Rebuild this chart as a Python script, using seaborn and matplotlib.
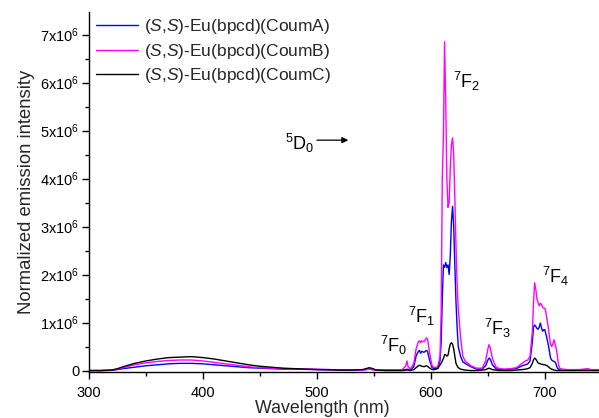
import numpy as np
import pandas as pd
import matplotlib
matplotlib.use("Agg")
import matplotlib.pyplot as plt
import seaborn as sns

# ---------------- data (intensity in units of 1e6) ----------------
wavelength = [300, 310, 320, 325, 330, 340, 350, 360, 370, 380, 390, 400, 410, 420, 430,
              440, 450, 460, 470, 480, 490, 500, 510, 520, 530, 540, 543, 546, 549, 552,
              560, 570, 575, 578, 579, 580, 582, 585, 587, 589, 590, 591, 592, 594, 596,
              597, 599, 601, 603, 606, 608, 609, 610, 611, 612, 613, 614, 615, 616, 617,
              618, 619, 620, 621, 622, 623, 624, 626, 628, 630, 635, 640, 645, 648, 650,
              651, 652, 654, 657, 660, 665, 670, 675, 680, 683, 685, 687, 689, 690, 691,
              692, 693, 694, 695, 696, 697, 698, 699, 700, 701, 702, 703, 704, 705, 706,
              707, 708, 709, 710, 711, 712, 713, 715, 720, 730, 738, 740, 750]

coum_b = [0, 0, 0.01, 0.03, 0.06, 0.12, 0.16, 0.19, 0.21, 0.22, 0.22, 0.20, 0.17, 0.14, 0.11,
          0.08, 0.06, 0.05, 0.04, 0.035, 0.03, 0.03, 0.02, 0.015, 0.01, 0.01, 0.02, 0.03, 0.02, 0.01,
          0.01, 0.01, 0.02, 0.10, 0.20, 0.08, 0.03, 0.15, 0.45, 0.60, 0.62, 0.58, 0.62, 0.60, 0.68,
          0.66, 0.35, 0.10, 0.06, 0.08, 0.30, 1.2, 4.0, 4.9, 6.85, 5.6, 4.0, 3.4, 3.5, 4.2,
          4.7, 4.85, 4.5, 3.6, 2.6, 1.8, 1.3, 0.7, 0.3, 0.2, 0.1, 0.05, 0.05, 0.20, 0.45,
          0.54, 0.48, 0.25, 0.08, 0.04, 0.03, 0.04, 0.06, 0.15, 0.20, 0.22, 0.30, 0.8, 1.4, 1.83,
          1.7, 1.5, 1.42, 1.35, 1.4, 1.38, 1.32, 1.3, 1.3, 1.2, 1.05, 0.9, 0.7, 0.55, 0.5,
          0.55, 0.64, 0.55, 0.45, 0.3, 0.12, 0.05, 0.03, 0.02, 0.02, 0.04, 0.02, 0.02]

coum_a = [0, 0, 0.005, 0.02, 0.04, 0.07, 0.10, 0.12, 0.14, 0.15, 0.15, 0.14, 0.12, 0.10, 0.08,
          0.06, 0.05, 0.04, 0.03, 0.03, 0.025, 0.02, 0.02, 0.015, 0.01, 0.01, 0.02, 0.03, 0.02, 0.01,
          0.01, 0.01, 0.01, 0.02, 0.03, 0.02, 0.01, 0.08, 0.30, 0.40, 0.42, 0.36, 0.40, 0.38, 0.42,
          0.40, 0.20, 0.06, 0.04, 0.05, 0.20, 0.6, 1.5, 2.2, 2.15, 2.25, 2.15, 2.2, 2.0, 2.4,
          3.1, 3.42, 3.0, 2.2, 1.44, 0.9, 0.5, 0.3, 0.18, 0.15, 0.08, 0.03, 0.03, 0.10, 0.22,
          0.26, 0.24, 0.12, 0.04, 0.02, 0.02, 0.03, 0.04, 0.10, 0.12, 0.14, 0.20, 0.6, 0.9, 0.95,
          0.92, 0.88, 0.86, 0.9, 0.99, 0.9, 0.82, 0.85, 0.85, 0.75, 0.65, 0.54, 0.4, 0.26, 0.22,
          0.2, 0.19, 0.18, 0.12, 0.05, 0.03, 0.01, 0.01, 0.01, 0.01, 0.01, 0.01, 0.01]

coum_c = [0, 0, 0.01, 0.04, 0.08, 0.15, 0.20, 0.24, 0.27, 0.28, 0.29, 0.27, 0.24, 0.20, 0.16,
          0.12, 0.09, 0.07, 0.05, 0.04, 0.03, 0.02, 0.015, 0.01, 0.01, 0.02, 0.04, 0.06, 0.04, 0.01,
          0.0, 0.0, 0.0, 0.01, 0.01, 0.01, 0.0, 0.02, 0.06, 0.10, 0.11, 0.10, 0.09, 0.08, 0.10,
          0.09, 0.05, 0.02, 0.02, 0.04, 0.12, 0.15, 0.2, 0.25, 0.33, 0.33, 0.3, 0.32, 0.45, 0.55,
          0.58, 0.55, 0.45, 0.3, 0.15, 0.1, 0.06, 0.03, 0.02, 0.01, 0.0, 0.0, 0.01, 0.02, 0.04,
          0.05, 0.04, 0.02, 0.01, 0.0, 0.0, 0.0, 0.01, 0.02, 0.03, 0.04, 0.06, 0.15, 0.22, 0.26,
          0.24, 0.2, 0.16, 0.15, 0.14, 0.13, 0.13, 0.12, 0.12, 0.11, 0.1, 0.08, 0.06, 0.04, 0.03,
          0.02, 0.01, 0.01, 0.0, 0.0, 0.0, 0.0, 0.0, 0.0, 0.0, 0.0, 0.0, 0.0]

series_names = [r"$(S{,}S)$-Eu(bpcd)(CoumA)", r"$(S{,}S)$-Eu(bpcd)(CoumB)",
                r"$(S{,}S)$-Eu(bpcd)(CoumC)"]
series_colors = ["#0000FF", "#FF00FF", "#000000"]

x_ticks = [300, 400, 500, 600, 700]
y_ticks = [0, 1, 2, 3, 4, 5, 6, 7]
y_tick_labels = ["0", "1x10$^{6}$", "2x10$^{6}$", "3x10$^{6}$", "4x10$^{6}$",
                 "5x10$^{6}$", "6x10$^{6}$", "7x10$^{6}$"]

# transitions: (label, wavelength, intensity)
annotations = [(r"$^{7}$F$_{0}$", 555.5, 0.39),
               (r"$^{7}$F$_{1}$", 580.0, 0.99),
               (r"$^{7}$F$_{2}$", 619.3, 5.89),
               (r"$^{7}$F$_{3}$", 646.5, 0.74),
               (r"$^{7}$F$_{4}$", 697.4, 1.83),
               (r"$^{5}$D$_{0}$", 472.0, 4.60)]

# ---------------- styling ----------------
sns.set_theme(style="ticks")
plt.rcParams["font.family"] = ["Liberation Sans", "DejaVu Sans"]
plt.rcParams["mathtext.fontset"] = "custom"
plt.rcParams["mathtext.rm"] = "Liberation Sans"
plt.rcParams["mathtext.it"] = "Liberation Sans:italic"
plt.rcParams["mathtext.bf"] = "Liberation Sans:bold"

frames = []
for name, vals in zip(series_names, [coum_a, coum_b, coum_c]):
    frames.append(pd.DataFrame({"wl": wavelength, "I": np.array(vals) * 1e6, "series": name}))
df = pd.concat(frames, ignore_index=True)

fig = plt.figure(figsize=(5.99, 4.18), dpi=100)
ax = fig.add_axes([89 / 599, 46 / 418, 1 - 89 / 599, 360 / 418])

sns.lineplot(data=df, x="wl", y="I", hue="series", hue_order=series_names,
             palette=dict(zip(series_names, series_colors)), estimator=None,
             sort=False, linewidth=1.0, ax=ax)

ax.set_xlim(300, 747.5)
ax.set_ylim(-0.03e6, 7.47e6)
ax.set_xticks(x_ticks)
ax.set_xticks(np.arange(350, 750, 100), minor=True)
ax.set_yticks(np.array(y_ticks) * 1e6)
ax.set_yticklabels(y_tick_labels)
ax.set_yticks(np.arange(0.5, 7.5, 1.0) * 1e6, minor=True)
ax.tick_params(axis="both", which="major", direction="out", length=5, width=1,
               labelsize=10.5, color="black", labelcolor="black", pad=2)
ax.tick_params(axis="x", which="major", pad=5)
ax.tick_params(axis="both", which="minor", direction="out", length=3, width=1, color="black")
for s in ["top", "right"]:
    ax.spines[s].set_visible(False)
for s in ["left", "bottom"]:
    ax.spines[s].set_color("black")
    ax.spines[s].set_linewidth(1.0)

ax.set_xlabel("Wavelength (nm)", fontsize=12.8)
ax.xaxis.set_label_coords((322 - 89) / 510, -0.079)
ax.xaxis.label.set_va("top")
ax.set_ylabel("Normalized emission intensity", fontsize=13.3, labelpad=4)

for label, xw, yi in annotations:
    ax.text(xw, yi * 1e6, label, fontsize=13, ha="left", va="baseline", color="black")

ax.annotate("", xy=(527.5, 4.8e6), xytext=(500, 4.8e6),
            arrowprops=dict(arrowstyle="-|>", color="black", lw=0.9,
                            mutation_scale=9, shrinkA=0, shrinkB=0))

handles, labels = ax.get_legend_handles_labels()
ax.legend(handles, labels, loc="upper left", bbox_to_anchor=(96 / 599, 1 - 17 / 418),
          bbox_transform=fig.transFigure, frameon=False, fontsize=12.5,
          handlelength=2.4, handletextpad=0.35, labelspacing=0.33, borderpad=0,
          borderaxespad=0)

fig.savefig("out.png", dpi=100, facecolor="white")
